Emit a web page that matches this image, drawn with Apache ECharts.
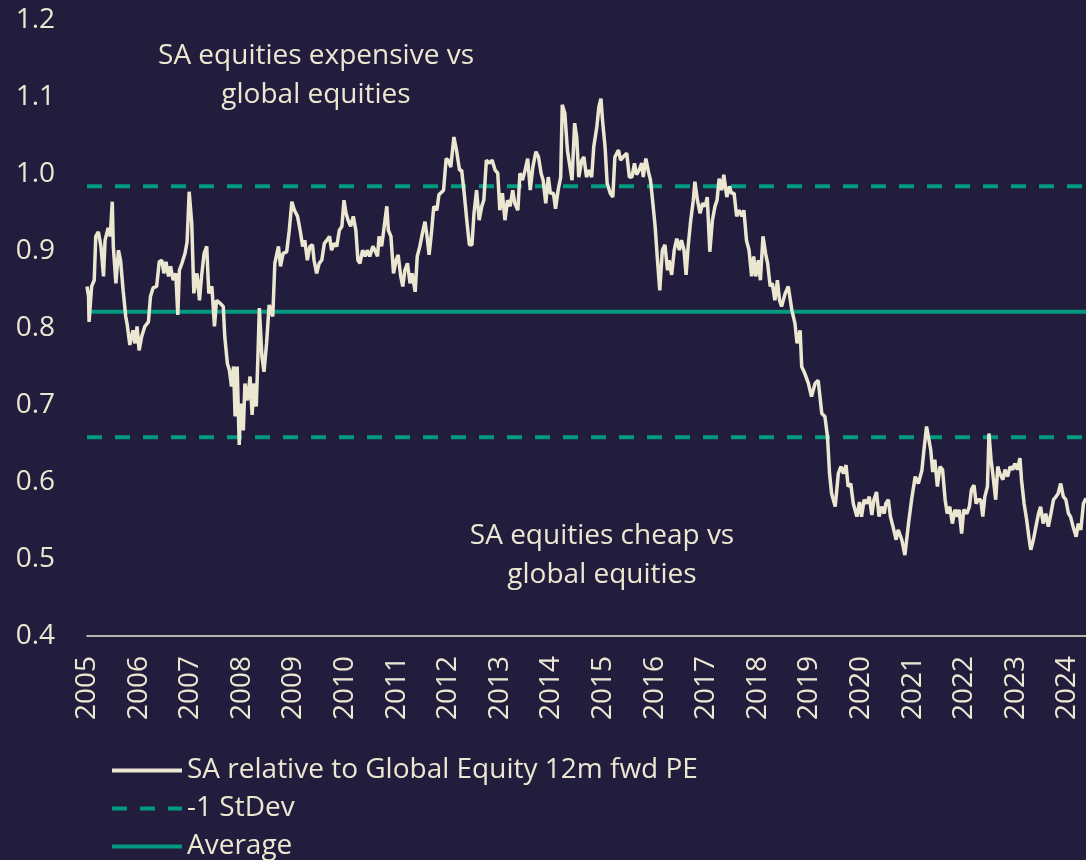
<!DOCTYPE html>
<html>
<head>
<meta charset="utf-8">
<script src="https://cdn.jsdelivr.net/npm/echarts@6/dist/echarts.min.js"></script>
<style>
  html, body { margin: 0; padding: 0; background: #221c3d; }
  #chart { width: 1086px; height: 860px; }
</style>
</head>
<body>
<div id="chart"></div>
<script>
// time axis as decimal years
const dates = [
  2005.00, 2005.03, 2005.04, 2005.09, 2005.14, 2005.17, 2005.22, 2005.27, 2005.32, 2005.35,
  2005.41, 2005.45, 2005.49, 2005.51, 2005.56, 2005.61, 2005.65, 2005.70, 2005.75, 2005.78,
  2005.83, 2005.89, 2005.93, 2005.97, 2006.01, 2006.06, 2006.12, 2006.19, 2006.23, 2006.28,
  2006.35, 2006.40, 2006.45, 2006.49, 2006.53, 2006.58, 2006.62, 2006.67, 2006.72, 2006.76,
  2006.79, 2006.84, 2006.90, 2006.94, 2006.98, 2007.03, 2007.07, 2007.13, 2007.18, 2007.22,
  2007.27, 2007.32, 2007.36, 2007.42, 2007.47, 2007.51, 2007.58, 2007.64, 2007.67, 2007.72,
  2007.76, 2007.80, 2007.84, 2007.87, 2007.91, 2007.95, 2007.98, 2008.03, 2008.06, 2008.11,
  2008.16, 2008.20, 2008.24, 2008.28, 2008.31, 2008.34, 2008.39, 2008.43, 2008.48, 2008.53,
  2008.60, 2008.64, 2008.71, 2008.75, 2008.80, 2008.87, 2008.92, 2008.97, 2009.02, 2009.08,
  2009.13, 2009.18, 2009.22, 2009.27, 2009.32, 2009.37, 2009.40, 2009.45, 2009.50, 2009.55,
  2009.60, 2009.65, 2009.70, 2009.74, 2009.79, 2009.84, 2009.89, 2009.94, 2009.98, 2010.02,
  2010.06, 2010.11, 2010.16, 2010.21, 2010.25, 2010.29, 2010.34, 2010.39, 2010.43, 2010.48,
  2010.54, 2010.58, 2010.63, 2010.66, 2010.71, 2010.76, 2010.81, 2010.84, 2010.89, 2010.94,
  2010.99, 2011.03, 2011.08, 2011.12, 2011.16, 2011.21, 2011.26, 2011.30, 2011.36, 2011.40,
  2011.45, 2011.50, 2011.55, 2011.59, 2011.63, 2011.68, 2011.72, 2011.78, 2011.82, 2011.85,
  2011.91, 2011.96, 2012.00, 2012.05, 2012.11, 2012.16, 2012.22, 2012.26, 2012.31, 2012.36,
  2012.41, 2012.46, 2012.50, 2012.55, 2012.60, 2012.65, 2012.69, 2012.74, 2012.80, 2012.85,
  2012.91, 2012.96, 2013.00, 2013.05, 2013.10, 2013.15, 2013.20, 2013.25, 2013.29, 2013.35,
  2013.39, 2013.44, 2013.49, 2013.54, 2013.59, 2013.64, 2013.70, 2013.75, 2013.80, 2013.84,
  2013.89, 2013.94, 2013.98, 2014.04, 2014.08, 2014.13, 2014.18, 2014.21, 2014.26, 2014.31,
  2014.36, 2014.40, 2014.45, 2014.49, 2014.53, 2014.59, 2014.63, 2014.68, 2014.73, 2014.78,
  2014.82, 2014.88, 2014.92, 2014.96, 2014.99, 2015.04, 2015.08, 2015.14, 2015.19, 2015.23,
  2015.30, 2015.34, 2015.39, 2015.46, 2015.51, 2015.56, 2015.61, 2015.65, 2015.70, 2015.75,
  2015.78, 2015.83, 2015.88, 2015.92, 2015.96, 2016.01, 2016.05, 2016.10, 2016.15, 2016.20,
  2016.25, 2016.28, 2016.33, 2016.38, 2016.43, 2016.48, 2016.52, 2016.57, 2016.61, 2016.65,
  2016.70, 2016.75, 2016.78, 2016.83, 2016.88, 2016.93, 2016.98, 2017.02, 2017.07, 2017.12,
  2017.17, 2017.21, 2017.25, 2017.30, 2017.34, 2017.40, 2017.45, 2017.49, 2017.54, 2017.59,
  2017.64, 2017.69, 2017.73, 2017.78, 2017.83, 2017.88, 2017.92, 2017.96, 2018.01, 2018.05,
  2018.10, 2018.15, 2018.19, 2018.24, 2018.28, 2018.33, 2018.38, 2018.42, 2018.46, 2018.53,
  2018.59, 2018.66, 2018.72, 2018.76, 2018.82, 2018.85, 2018.91, 2018.98, 2019.04, 2019.11,
  2019.17, 2019.24, 2019.30, 2019.35, 2019.39, 2019.43, 2019.50, 2019.56, 2019.61, 2019.66,
  2019.71, 2019.75, 2019.80, 2019.85, 2019.92, 2019.97, 2020.01, 2020.06, 2020.11, 2020.16,
  2020.21, 2020.25, 2020.30, 2020.35, 2020.40, 2020.45, 2020.48, 2020.53, 2020.57, 2020.62,
  2020.68, 2020.72, 2020.79, 2020.85, 2020.92, 2020.98, 2021.05, 2021.11, 2021.18, 2021.22,
  2021.27, 2021.30, 2021.35, 2021.39, 2021.43, 2021.48, 2021.53, 2021.58, 2021.63, 2021.67,
  2021.72, 2021.77, 2021.82, 2021.87, 2021.90, 2021.95, 2021.99, 2022.05, 2022.10, 2022.14,
  2022.19, 2022.23, 2022.27, 2022.32, 2022.36, 2022.40, 2022.45, 2022.48, 2022.52, 2022.56,
  2022.61, 2022.65, 2022.69, 2022.75, 2022.79, 2022.84, 2022.89, 2022.94, 2022.98, 2023.03,
  2023.08, 2023.11, 2023.16, 2023.21, 2023.26, 2023.29, 2023.34, 2023.39, 2023.44, 2023.48,
  2023.53, 2023.58, 2023.63, 2023.68, 2023.73, 2023.78, 2023.82, 2023.87, 2023.92, 2023.97,
  2024.02, 2024.06, 2024.11, 2024.17, 2024.21, 2024.26, 2024.31, 2024.36
]
// SA relative to global equity 12m fwd PE
const relPE = [
  0.854, 0.841, 0.808, 0.854, 0.862, 0.919, 0.925, 0.906, 0.867, 0.914,
  0.930, 0.919, 0.964, 0.906, 0.858, 0.901, 0.888, 0.849, 0.815, 0.804,
  0.778, 0.797, 0.780, 0.802, 0.771, 0.789, 0.802, 0.808, 0.841, 0.852,
  0.854, 0.886, 0.888, 0.871, 0.886, 0.867, 0.880, 0.862, 0.871, 0.817,
  0.875, 0.884, 0.897, 0.912, 0.977, 0.936, 0.845, 0.871, 0.836, 0.867,
  0.897, 0.906, 0.845, 0.854, 0.802, 0.836, 0.832, 0.828, 0.789, 0.754,
  0.745, 0.724, 0.750, 0.685, 0.750, 0.648, 0.702, 0.667, 0.728, 0.706,
  0.737, 0.687, 0.728, 0.698, 0.758, 0.826, 0.763, 0.743, 0.780, 0.830,
  0.815, 0.884, 0.906, 0.880, 0.897, 0.899, 0.927, 0.964, 0.953, 0.945,
  0.927, 0.906, 0.914, 0.888, 0.906, 0.908, 0.888, 0.871, 0.884, 0.888,
  0.910, 0.914, 0.919, 0.901, 0.910, 0.906, 0.927, 0.932, 0.966, 0.949,
  0.940, 0.932, 0.945, 0.927, 0.888, 0.884, 0.901, 0.893, 0.901, 0.893,
  0.906, 0.901, 0.893, 0.919, 0.906, 0.932, 0.958, 0.927, 0.919, 0.871,
  0.888, 0.895, 0.867, 0.854, 0.875, 0.884, 0.858, 0.871, 0.847, 0.893,
  0.906, 0.923, 0.938, 0.919, 0.895, 0.927, 0.958, 0.953, 0.973, 0.975,
  0.979, 1.020, 1.018, 1.009, 1.048, 1.031, 1.005, 1.005, 0.975, 0.940,
  0.908, 0.908, 0.949, 0.979, 0.940, 0.958, 0.966, 1.018, 1.014, 1.018,
  1.005, 1.001, 0.953, 0.975, 0.940, 0.966, 0.958, 0.979, 0.962, 0.953,
  1.001, 0.992, 1.005, 1.020, 0.979, 1.009, 1.029, 1.022, 1.001, 0.992,
  0.962, 0.996, 0.975, 0.975, 0.955, 0.979, 0.996, 1.090, 1.079, 1.031,
  1.009, 0.992, 1.066, 1.048, 0.996, 1.018, 1.022, 0.996, 1.005, 0.996,
  1.035, 1.061, 1.087, 1.098, 1.070, 1.035, 0.988, 0.975, 0.970, 1.022,
  1.031, 1.018, 1.022, 1.027, 0.996, 0.996, 1.014, 0.999, 1.005, 1.014,
  0.996, 1.020, 1.003, 0.992, 0.966, 0.932, 0.893, 0.849, 0.901, 0.908,
  0.875, 0.888, 0.869, 0.901, 0.916, 0.901, 0.914, 0.901, 0.869, 0.906,
  0.940, 0.966, 0.990, 0.966, 0.949, 0.962, 0.958, 0.970, 0.899, 0.940,
  0.958, 0.966, 0.994, 0.979, 0.999, 0.970, 0.984, 0.975, 0.975, 0.945,
  0.953, 0.945, 0.953, 0.914, 0.901, 0.867, 0.893, 0.867, 0.888, 0.862,
  0.919, 0.897, 0.884, 0.854, 0.858, 0.836, 0.862, 0.836, 0.828, 0.845,
  0.854, 0.823, 0.806, 0.780, 0.797, 0.750, 0.741, 0.728, 0.711, 0.728,
  0.732, 0.689, 0.685, 0.659, 0.611, 0.585, 0.568, 0.611, 0.620, 0.611,
  0.622, 0.594, 0.598, 0.572, 0.555, 0.574, 0.555, 0.577, 0.572, 0.581,
  0.557, 0.577, 0.587, 0.555, 0.568, 0.559, 0.572, 0.577, 0.555, 0.542,
  0.525, 0.538, 0.525, 0.505, 0.546, 0.577, 0.607, 0.598, 0.615, 0.642,
  0.672, 0.674, 0.642, 0.613, 0.629, 0.594, 0.620, 0.616, 0.577, 0.559,
  0.568, 0.546, 0.564, 0.555, 0.564, 0.533, 0.564, 0.559, 0.568, 0.590,
  0.596, 0.572, 0.577, 0.577, 0.555, 0.581, 0.594, 0.663, 0.629, 0.607,
  0.577, 0.620, 0.611, 0.603, 0.616, 0.607, 0.620, 0.616, 0.624, 0.616,
  0.631, 0.603, 0.572, 0.551, 0.525, 0.512, 0.525, 0.542, 0.559, 0.568,
  0.546, 0.559, 0.542, 0.559, 0.577, 0.581, 0.585, 0.598, 0.581, 0.577,
  0.559, 0.555, 0.542, 0.529, 0.546, 0.538, 0.572, 0.579
]
const average = 0.821
const stdevLow = 0.658
const stdevHigh = 0.984
const xStart = 2005
const xEnd = 2024.36

const cream = '#ebe7d1'
const teal = '#009a80'
const font = 'Open Sans'
const fontSize = 28

const chart = echarts.init(document.getElementById('chart'), null, { renderer: 'canvas' })

const lineData = dates.map((d, i) => [d, relPE[i]])
const flat = v => [[xStart, v], [xEnd, v]]

const option = {
  backgroundColor: '#221c3d',
  animation: false,
  textStyle: { fontFamily: font, color: cream },
  grid: {
    left: 87,
    right: 0,
    top: 20,
    bottom: 224
  },
  xAxis: {
    type: 'value',
    min: xStart,
    max: xEnd,
    interval: 1,
    axisLine: { show: true, lineStyle: { color: cream, width: 1.5 } },
    axisTick: { show: false },
    splitLine: { show: false },
    axisLabel: {
      rotate: 90,
      margin: 20,
      color: cream,
      fontSize: fontSize,
      fontFamily: font,
      showMaxLabel: false,
      formatter: v => String(Math.round(v))
    }
  },
  yAxis: {
    type: 'value',
    min: 0.4,
    max: 1.2,
    interval: 0.1,
    axisLine: { show: false },
    axisTick: { show: false },
    splitLine: { show: false },
    axisLabel: {
      margin: 32,
      color: cream,
      fontSize: fontSize,
      fontFamily: font,
      formatter: v => v.toFixed(1)
    }
  },
  legend: {
    orient: 'vertical',
    left: 110,
    top: 755,
    height: 110,
    padding: 0,
    itemWidth: 70,
    itemHeight: 14,
    itemGap: 7,
    itemStyle: { opacity: 0 },
    lineStyle: { width: 4 },
    data: ['SA relative to Global Equity 12m fwd PE', '-1 StDev', 'Average'],
    textStyle: { color: cream, fontSize: fontSize, fontFamily: font, lineHeight: 31 }
  },
  graphic: [
    {
      type: 'text',
      x: 316,
      y: 37,
      style: {
        text: 'SA equities expensive vs\nglobal equities',
        fill: cream,
        font: fontSize + 'px "Open Sans"',
        textAlign: 'center',
        lineHeight: 39
      }
    },
    {
      type: 'text',
      x: 602,
      y: 517,
      style: {
        text: 'SA equities cheap vs\nglobal equities',
        fill: cream,
        font: fontSize + 'px "Open Sans"',
        textAlign: 'center',
        lineHeight: 39
      }
    }
  ],
  series: [
    {
      name: '+1 StDev',
      type: 'line',
      data: flat(stdevHigh),
      symbol: 'none',
      silent: true,
      z: 1,
      lineStyle: { color: teal, width: 4, type: [15, 13] }
    },
    {
      name: '-1 StDev',
      type: 'line',
      data: flat(stdevLow),
      symbol: 'none',
      z: 1,
      lineStyle: { color: teal, width: 4, type: [15, 13] },
      itemStyle: { color: teal }
    },
    {
      name: 'Average',
      type: 'line',
      data: flat(average),
      symbol: 'none',
      z: 1,
      lineStyle: { color: teal, width: 4 },
      itemStyle: { color: teal }
    },
    {
      name: 'SA relative to Global Equity 12m fwd PE',
      type: 'line',
      data: lineData,
      symbol: 'none',
      z: 2,
      lineStyle: { color: cream, width: 3.5 },
      itemStyle: { color: cream }
    }
  ]
}

chart.setOption(option)
</script>
</body>
</html>
